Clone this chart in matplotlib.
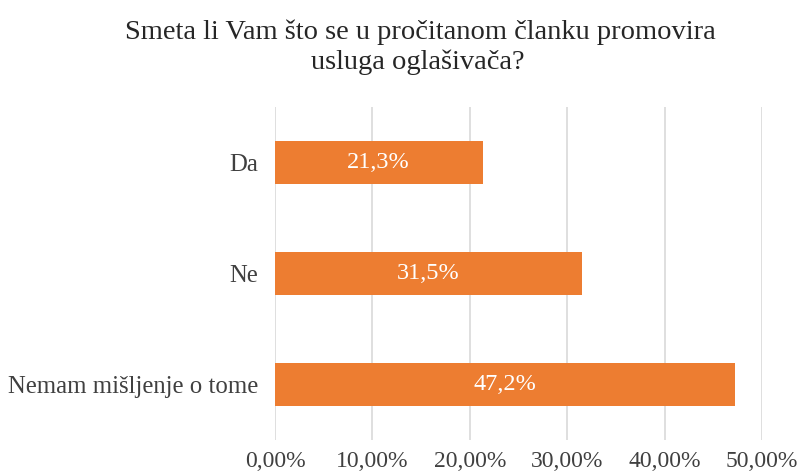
import matplotlib.pyplot as plt
from matplotlib.ticker import FuncFormatter

kategorije = ["Da", "Ne", "Nemam mišljenje o tome"]
postoci = [21.3, 31.5, 47.2]
tick_vrijednosti = [0, 10, 20, 30, 40, 50]

plt.rcParams['font.family'] = ['Liberation Serif', 'DejaVu Serif']

fig = plt.figure(figsize=(8.04, 4.74), dpi=100)
ax = fig.add_axes([0.342, 0.072, 0.606, 0.702])

y = list(range(len(kategorije)))
ax.barh(y, postoci, height=0.39, color='#ED7D31', zorder=3)

# oznake na stupcima
for yi, v in zip(y, postoci):
    ax.text(v / 2, yi, f"{v:.1f}%".replace('.', ','), ha='center', va='center',
            color='white', fontsize=17.5, zorder=4)

ax.set_ylim(len(kategorije) - 0.5, -0.5)
ax.set_yticks(y)
ax.set_yticklabels(kategorije, fontsize=17.8, color='#404040')
ax.set_xlim(0, 50)
ax.set_xticks(tick_vrijednosti)
ax.xaxis.set_major_formatter(FuncFormatter(lambda x, p: f"{x:.2f}%".replace('.', ',')))
ax.tick_params(axis='x', labelsize=17, colors='#404040', length=0, pad=8)
ax.tick_params(axis='y', length=0, pad=12)

ax.grid(axis='x', color='#D9D9D9', linewidth=1.2, zorder=0)
for s in ax.spines.values():
    s.set_visible(False)

fig.text(0.523, 0.932, "Smeta li Vam što se u pročitanom članku promovira",
         ha='center', va='center', fontsize=20.5, color='#262626')
fig.text(0.519, 0.869, "usluga oglašivača?",
         ha='center', va='center', fontsize=20.5, color='#262626')

fig.savefig("out.png", dpi=100)
